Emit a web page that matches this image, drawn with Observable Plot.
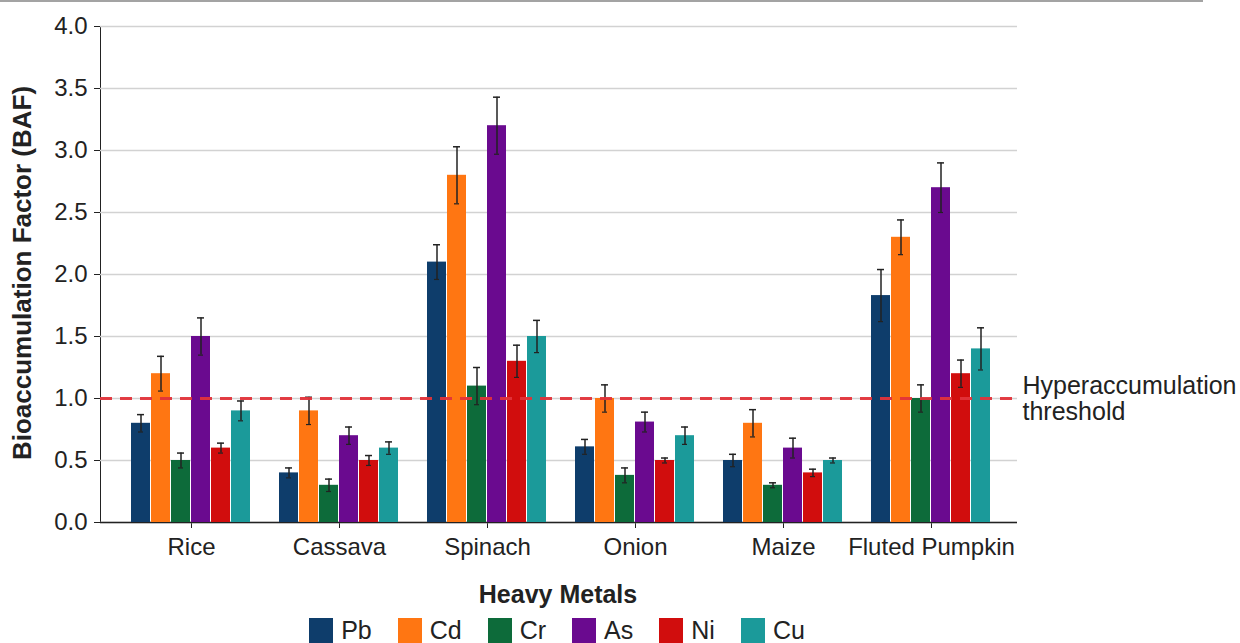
<!DOCTYPE html>
<html>
<head>
<meta charset="utf-8">
<script src="https://cdn.jsdelivr.net/npm/d3@7"></script>
<script src="https://cdn.jsdelivr.net/npm/@observablehq/plot@0.6"></script>
<style>
  html, body { margin: 0; padding: 0; background: #fff; }
  body { width: 1240px; height: 643px; position: relative; overflow: hidden; font-family: "Liberation Sans", Arial, sans-serif; color: #222; }
  #topline { position: absolute; left: 0; top: 0; width: 1203px; height: 2px; background: #a3a3a3; z-index: 5; }
  .layer { position: absolute; left: 0; top: 0; }
  .layer svg { display: block; }
  #layerA [aria-label="x-axis tick label"] text { font-size: 24px; }
  #layerA [aria-label="y-axis tick label"] text { font-size: 24px; }
  #ytitle { position: absolute; left: 22px; top: 273px; transform: translate(-50%, -50%) rotate(-90deg); white-space: nowrap; font-weight: bold; font-size: 26px; color: #222; }
  #xtitle { position: absolute; left: 0; width: 1116px; top: 580px; text-align: center; font-weight: bold; font-size: 25px; line-height: 28px; color: #222; }
  #legend { position: absolute; left: 0; width: 1114px; top: 616px; display: flex; justify-content: center; align-items: center; font-size: 25px; line-height: 28px; color: #222; }
  .item { display: flex; align-items: center; margin: 0 13px; }
  .sw { width: 24px; height: 25px; margin-right: 8px; }
</style>
</head>
<body>
<div id="topline"></div>
<div id="layerA" class="layer"></div>
<div id="layerB" class="layer"></div>
<div id="layerC" class="layer"></div>
<div id="ytitle">Bioaccumulation Factor (BAF)</div>
<div id="xtitle">Heavy Metals</div>
<div id="legend"></div>
<script>
const crops = ["Rice", "Cassava", "Spinach", "Onion", "Maize", "Fluted Pumpkin"];
const metals = ["Pb", "Cd", "Cr", "As", "Ni", "Cu"];
const colors = ["#0e3d6b", "#ff7612", "#0d6b3a", "#6a0a8f", "#d10d0d", "#1b9a9a"];

// BAF values per metal (in crop order)
const Pb = [0.80, 0.40, 2.10, 0.61, 0.50, 1.83];
const Cd = [1.20, 0.90, 2.80, 1.00, 0.80, 2.30];
const Cr = [0.50, 0.30, 1.10, 0.38, 0.30, 1.00];
const As = [1.50, 0.70, 3.20, 0.81, 0.60, 2.70];
const Ni = [0.60, 0.50, 1.30, 0.50, 0.40, 1.20];
const Cu = [0.90, 0.60, 1.50, 0.70, 0.50, 1.40];

// error (± half-length of error bar)
const PbErr = [0.07, 0.04, 0.14, 0.06, 0.05, 0.21];
const CdErr = [0.14, 0.11, 0.23, 0.11, 0.11, 0.14];
const CrErr = [0.06, 0.05, 0.15, 0.06, 0.02, 0.11];
const AsErr = [0.15, 0.07, 0.23, 0.08, 0.08, 0.20];
const NiErr = [0.04, 0.04, 0.13, 0.02, 0.03, 0.11];
const CuErr = [0.08, 0.05, 0.13, 0.07, 0.02, 0.17];

const yTicks = [0, 0.5, 1.0, 1.5, 2.0, 2.5, 3.0, 3.5, 4.0];
const threshold = [1.0];
const thresholdLabel = "Hyperaccumulation\nthreshold";

const series = {Pb, Cd, Cr, As, Ni, Cu};
const errors = {Pb: PbErr, Cd: CdErr, Cr: CrErr, As: AsErr, Ni: NiErr, Cu: CuErr};
const data = [];
crops.forEach((crop, i) => {
  metals.forEach(m => {
    data.push({crop, metal: m, value: series[m][i], err: errors[m][i]});
  });
});

const W = 1240, H = 570, MT = 26, MB = 48, ML = 100, MR = 223;
const INL = 14, INR = 10; // group inset inside the frame
const font = "'Liberation Sans', Arial, sans-serif";

// Layer A: grid, axes, category labels
const plotA = Plot.plot({
  width: W, height: H, marginLeft: ML, marginRight: MR, marginTop: MT, marginBottom: MB,
  style: {fontFamily: font, fontSize: "23px", color: "#222", background: "#fff"},
  x: {type: "band", domain: crops, padding: 0, insetLeft: INL, insetRight: INR, label: null, tickSize: 6, tickPadding: 9},
  y: {domain: [0, 4], ticks: yTicks, tickFormat: d3.format(".1f"), label: null, tickSize: 6, tickPadding: 7, line: true},
  marks: [
    Plot.ruleY(yTicks, {stroke: "#d2d2d2", strokeWidth: 1.5}),
    Plot.ruleY([0], {stroke: "#222", strokeWidth: 1.5})
  ]
});
document.getElementById("layerA").appendChild(plotA);

// Layer B: grouped bars with error bars (faceted by crop)
const plotB = Plot.plot({
  width: W, height: H, marginLeft: ML + INL, marginRight: MR + INR, marginTop: MT, marginBottom: MB,
  style: {fontFamily: font, fontSize: "23px", background: "transparent"},
  fx: {domain: crops, paddingInner: 0.17, paddingOuter: 0.085, axis: null, label: null},
  x: {domain: metals, padding: 0.05, axis: null},
  y: {domain: [0, 4], axis: null},
  color: {domain: metals, range: colors},
  marks: [
    Plot.barY(data, {fx: "crop", x: "metal", y: "value", fill: "metal"}),
    Plot.ruleX(data, {fx: "crop", x: "metal", y1: d => d.value - d.err, y2: d => d.value + d.err, stroke: "#222", strokeWidth: 1.5}),
    Plot.tickY(data, {fx: "crop", x: "metal", y: d => d.value + d.err, stroke: "#222", strokeWidth: 1.5, insetLeft: 6, insetRight: 6}),
    Plot.tickY(data, {fx: "crop", x: "metal", y: d => d.value - d.err, stroke: "#222", strokeWidth: 1.2, insetLeft: 7, insetRight: 7})
  ]
});
document.getElementById("layerB").appendChild(plotB);

// Layer C: hyperaccumulation threshold line and label
const plotC = Plot.plot({
  width: W, height: H, marginLeft: ML, marginRight: MR, marginTop: MT, marginBottom: MB,
  style: {fontFamily: font, fontSize: "23px", background: "transparent", overflow: "visible"},
  y: {domain: [0, 4], axis: null},
  marks: [
    Plot.ruleY(threshold, {stroke: "#e2333a", strokeWidth: 3, strokeDasharray: "12,8", strokeOpacity: 0.95}),
    Plot.text([{label: thresholdLabel, v: threshold[0]}], {frameAnchor: "right", y: "v", text: "label", textAnchor: "start", lineAnchor: "middle", dx: 5, fontSize: 25, fill: "#222", lineHeight: 1.04})
  ]
});
document.getElementById("layerC").appendChild(plotC);

const legend = document.getElementById("legend");
metals.forEach((m, i) => {
  const it = document.createElement("div");
  it.className = "item";
  const sw = document.createElement("div");
  sw.className = "sw";
  sw.style.background = colors[i];
  const lb = document.createElement("span");
  lb.textContent = m;
  it.appendChild(sw);
  it.appendChild(lb);
  legend.appendChild(it);
});
</script>
</body>
</html>
